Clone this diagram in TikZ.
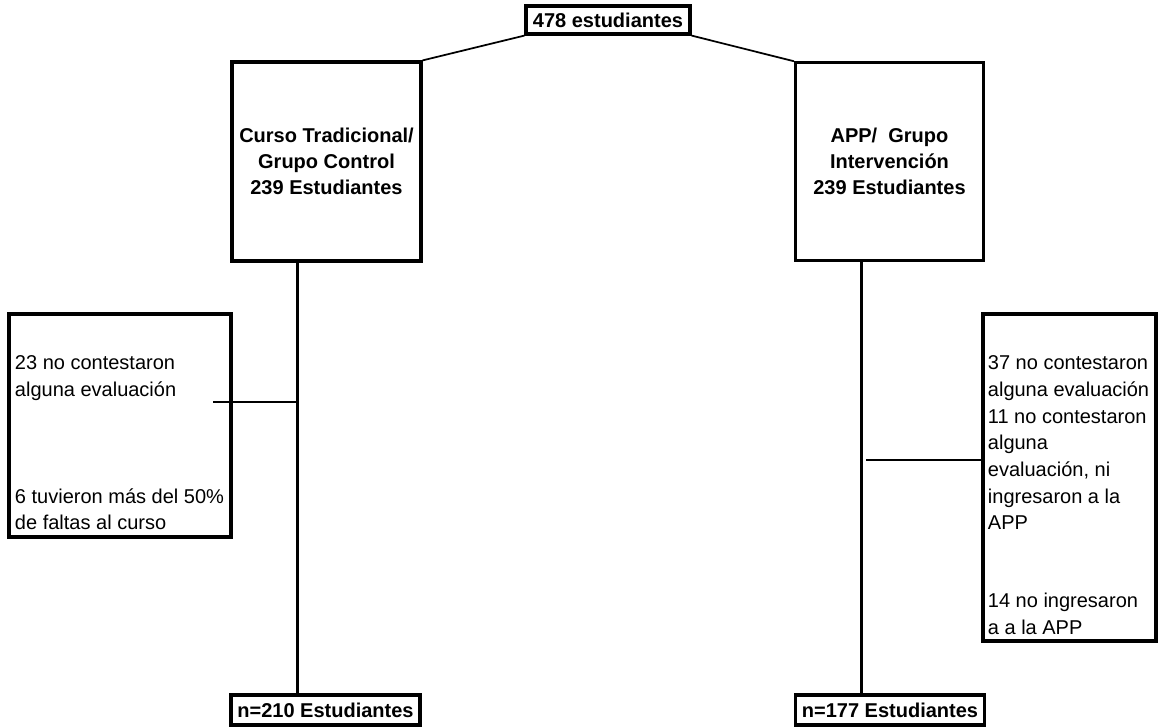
\documentclass[tikz,border=0pt]{standalone}
\usepackage{fontspec}
\setmainfont{Liberation Sans}
\usepackage{tikz}
\usetikzlibrary{positioning,calc}
\tikzstyle{box}=[draw,fill=white,line width=2.4pt,inner sep=2pt,align=center,font=\bfseries\fontsize{15pt}{19.5pt}\selectfont]
\tikzstyle{note}=[inner sep=0pt,anchor=north west,align=left,font=\fontsize{15pt}{20pt}\selectfont]

\begin{document}
\begin{tikzpicture}[x=0.75pt,y=-0.75pt]
\tikzstyle{spine}=[line width=2.4pt]
\tikzstyle{branch}=[line width=1.3pt]
\useasboundingbox (0,0) rectangle (1158,727);

\node [box,minimum width=123pt,minimum height=21pt] (total) at (608,20) {478 estudiantes};
\node [box,minimum width=141.75pt,minimum height=149.25pt] (ctrl) at (326.5,161.5) {Curso Tradicional/\\Grupo Control\\239 Estudiantes};
\node [box,minimum width=141pt,minimum height=148pt] (intv) at (889.5,161.5) {APP/\ \ Grupo\\Intervención\\239 Estudiantes};

% exclusion boxes
\node [box,minimum width=166.5pt,minimum height=167.25pt] (lexcl) at (120,425.5) {};
\node [box,minimum width=129.75pt,minimum height=245.25pt] (rexcl) at (1069.5,477.5) {};
\node [note] (ltxt) at ([xshift=5.5pt,yshift=-32.5pt]lexcl.north west) {23 no contestaron\\alguna evaluación\\[60pt]6 tuvieron más del 50\%\\de faltas al curso};
\node [note] (rtxt) at ([xshift=4.7pt,yshift=-32.5pt]rexcl.north west) {37 no contestaron\\alguna evaluación\\11 no contestaron\\alguna\\evaluación, ni\\ingresaron a la\\APP\\[38.5pt]14 no ingresaron\\a a la APP};

\node [box,minimum width=141.75pt,minimum height=22.5pt] (lfinal) at (325.5,710) {n=210 Estudiantes};
\node [box,minimum width=141.75pt,minimum height=22.5pt] (rfinal) at (890,710) {n=177 Estudiantes};

\draw[branch] (total.south west) -- (ctrl.north east);
\draw[branch] (total.south east) -- (intv.north west);

\coordinate (ltop) at ([xshift=-22pt]ctrl.south);
\coordinate (lbot) at (ltop |- lfinal.north);
\coordinate (rtop) at ([xshift=-20.8pt]intv.south);
\coordinate (rbot) at (rtop |- rfinal.north);
\draw[spine] (ltop) -- (lbot);
\draw[spine] (rtop) -- (rbot);

\coordinate (lcut) at ([xshift=-14.5pt,yshift=17.6pt]lexcl.east);
\draw[branch] (lcut) -- (lcut -| ltop);
\coordinate (rcut) at ([yshift=13.1pt]rexcl.west);
\coordinate (rgap) at ([xshift=3pt]rtop);
\draw[branch] (rcut) -- (rcut -| rgap);
\end{tikzpicture}
\end{document}
